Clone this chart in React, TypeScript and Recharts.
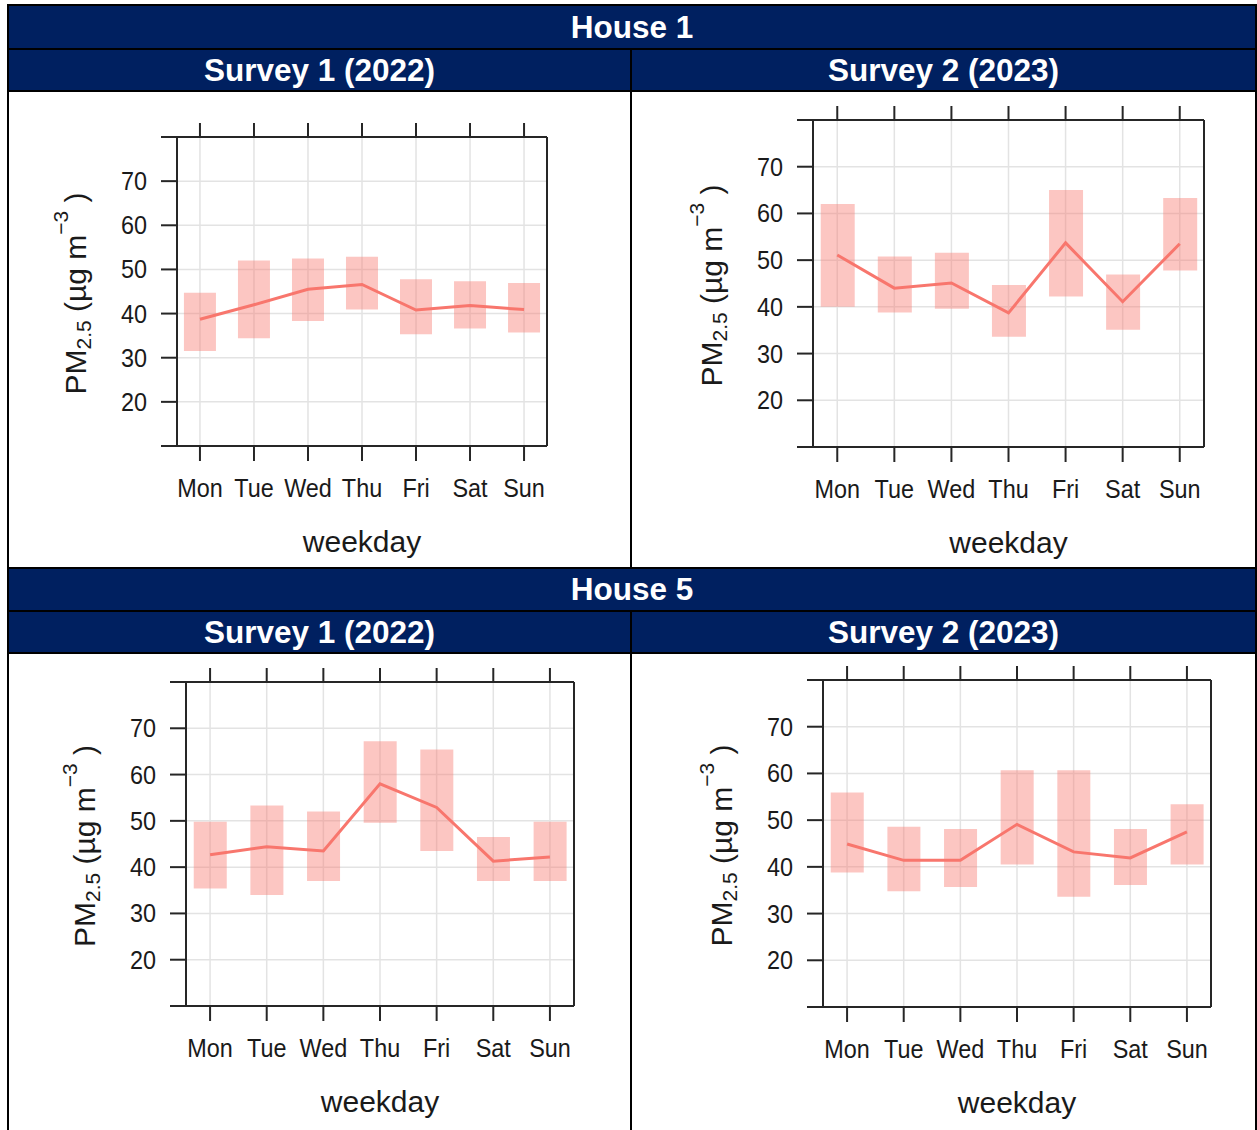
import React from 'react';
import { ComposedChart, Bar, Line, XAxis, YAxis, CartesianGrid } from 'recharts';

const days = ['Mon', 'Tue', 'Wed', 'Thu', 'Fri', 'Sat', 'Sun'];
const dayPos = [1, 2, 3, 4, 5, 6, 7];
const yTicks = [10, 20, 30, 40, 50, 60, 70, 80];
const yLabelled = [20, 30, 40, 50, 60, 70];
const houseTitles = ['House 1', 'House 5'];
const surveyTitles = ['Survey 1 (2022)', 'Survey 2 (2023)'];

// House 1, Survey 1 (2022)
const h1s1Mean = [38.7, 42.0, 45.5, 46.6, 40.8, 41.8, 40.9];
const h1s1Low = [31.5, 34.4, 38.3, 40.9, 35.3, 36.6, 35.7];
const h1s1High = [44.7, 52.0, 52.5, 52.9, 47.8, 47.3, 46.9];

// House 1, Survey 2 (2023)
const h1s2Mean = [51.1, 44.0, 45.1, 38.7, 53.7, 41.1, 53.5];
const h1s2Low = [40.0, 38.8, 39.6, 33.6, 42.2, 35.1, 47.8];
const h1s2High = [62.0, 50.8, 51.6, 44.7, 65.0, 46.9, 63.3];

// House 5, Survey 1 (2022)
const h5s1Mean = [42.7, 44.4, 43.5, 58.0, 52.9, 41.3, 42.2];
const h5s1Low = [35.4, 34.0, 37.0, 49.6, 43.5, 37.0, 37.0];
const h5s1High = [49.8, 53.3, 52.0, 67.2, 65.4, 46.5, 49.8];

// House 5, Survey 2 (2023)
const h5s2Mean = [44.9, 41.4, 41.4, 49.1, 43.2, 41.9, 47.5];
const h5s2Low = [38.8, 34.8, 35.7, 40.5, 33.6, 36.1, 40.5];
const h5s2High = [55.9, 48.6, 48.1, 60.7, 60.7, 48.1, 53.4];

const NAVY = '#002060';
const FONT = '"Liberation Sans", Arial, Helvetica, sans-serif';
const SERIES = '#F8766D';
const AXIS = '#262626';
const TEXT = '#1a1a1a';
const xDomain = [0.575, 7.425];
const yDomain = [10, 80];

type Box = [number, number, number, number];

function XTick(props: any) {
  const { x, y, payload } = props;
  const label = days[payload.value - 1] ?? '';
  return (
    <text
      transform={`translate(${x},${y + 34}) scale(0.9,1)`}
      textAnchor="middle"
      fontSize={26}
      fontFamily={FONT}
      fill={TEXT}
    >
      {label}
    </text>
  );
}

function YTick(props: any) {
  const { x, y, payload } = props;
  if (!yLabelled.includes(payload.value)) return <g />;
  return (
    <text
      transform={`translate(${x - 12},${y}) scale(0.9,1)`}
      textAnchor="end"
      dominantBaseline="central"
      fontSize={26}
      fontFamily={FONT}
      fill={TEXT}
    >
      {payload.value}
    </text>
  );
}

function EmptyTick() {
  return <g />;
}

function Panel({ cell, frame, mean, low, high, barSize }: { cell: Box; frame: Box; mean: number[]; low: number[]; high: number[]; barSize: number }) {
  const [cl, ct, cr, cb] = cell;
  const [fl, ft, fr, fb] = frame;
  const W = cr - cl;
  const H = cb - ct;
  const data = days.map((d, i) => ({ x: dayPos[i], day: d, range: [low[i], high[i]], mean: mean[i] }));
  const axisStyle = { stroke: AXIS, strokeWidth: 2 };
  const xlx = (fl + fr) / 2 - cl;
  const xly = fb + 106 - ct;
  const ylx = fl - 102 - cl;
  const yly = (ft + fb) / 2 + 2 - ct;
  return (
    <div style={{ position: 'absolute', left: cl, top: ct, width: W, height: H }}>
      <ComposedChart width={W} height={H} data={data} margin={{ top: 0, right: 0, bottom: 0, left: 0 }}>
        <CartesianGrid xAxisId="b" yAxisId="l" stroke="#e3e3e3" strokeWidth={1.5} />
        <XAxis
          xAxisId="b"
          dataKey="x"
          type="number"
          orientation="bottom"
          domain={xDomain}
          ticks={dayPos}
          interval={0}
          height={cb - fb}
          tickSize={15}
          tickMargin={2}
          axisLine={axisStyle}
          tickLine={axisStyle}
          tick={<XTick />}
          label={() => (
            <text x={xlx} y={xly} textAnchor="middle" fontSize={30} fontFamily={FONT} fill={TEXT}>
              weekday
            </text>
          )}
        />
        <XAxis
          xAxisId="t"
          dataKey="x"
          type="number"
          orientation="top"
          domain={xDomain}
          ticks={dayPos}
          interval={0}
          height={ft - ct}
          tickSize={14}
          axisLine={axisStyle}
          tickLine={axisStyle}
          tick={<EmptyTick />}
        />
        <YAxis
          yAxisId="l"
          type="number"
          orientation="left"
          domain={yDomain}
          ticks={yTicks}
          interval={0}
          width={fl - cl}
          tickSize={16}
          tickMargin={2}
          axisLine={axisStyle}
          tickLine={axisStyle}
          tick={<YTick />}
          label={() => (
            <text
              transform={`translate(${ylx},${yly}) rotate(-90)`}
              textAnchor="middle"
              dominantBaseline="central"
              fontSize={30}
              fontFamily={FONT}
              fill={TEXT}
            >
              PM
              <tspan fontSize={21} dy={8}>2.5</tspan>
              <tspan dy={-8}> (µg m</tspan>
              <tspan fontSize={21} dy={-15}>−3</tspan>
              <tspan dy={15}> )</tspan>
            </text>
          )}
        />
        <YAxis
          yAxisId="r"
          type="number"
          orientation="right"
          domain={yDomain}
          ticks={yTicks}
          interval={0}
          width={cr - fr}
          tickSize={14}
          axisLine={axisStyle}
          tickLine={axisStyle}
          tick={<EmptyTick />}
        />
        <Bar
          xAxisId="b"
          yAxisId="l"
          dataKey="range"
          barSize={barSize}
          fill={SERIES}
          fillOpacity={0.42}
          isAnimationActive={false}
        />
        <Line
          xAxisId="b"
          yAxisId="l"
          dataKey="mean"
          type="linear"
          stroke={SERIES}
          strokeWidth={3}
          dot={false}
          activeDot={false}
          isAnimationActive={false}
        />
      </ComposedChart>
    </div>
  );
}

function Rect({ x, y, w, h, c }: { x: number; y: number; w: number; h: number; c: string }) {
  return <div style={{ position: 'absolute', left: x, top: y, width: w, height: h, background: c }} />;
}

function Band({ x, y, w, h, text }: { x: number; y: number; w: number; h: number; text: string }) {
  return (
    <div
      style={{
        position: 'absolute',
        left: x,
        top: y,
        width: w,
        height: h,
        background: NAVY,
        color: '#ffffff',
        fontFamily: FONT,
        fontWeight: 'bold',
        fontSize: 31.5,
        lineHeight: `${h}px`,
        textAlign: 'center',
        whiteSpace: 'nowrap',
      }}
    >
      {text}
    </div>
  );
}

export default function App() {
  return (
    <div style={{ position: 'absolute', left: 0, top: 0, width: 1257, height: 1130, background: '#ffffff', overflow: 'hidden' }}>
      {/* header bands */}
      <Band x={9} y={6} w={1246} h={42} text={houseTitles[0]} />
      <Band x={9} y={50} w={621} h={40} text={surveyTitles[0]} />
      <Band x={632} y={50} w={623} h={40} text={surveyTitles[1]} />
      <Band x={9} y={569} w={1246} h={41} text={houseTitles[1]} />
      <Band x={9} y={612} w={621} h={40} text={surveyTitles[0]} />
      <Band x={632} y={612} w={623} h={40} text={surveyTitles[1]} />

      <Panel cell={[9, 92, 630, 567]} frame={[177, 137, 547, 446]} mean={h1s1Mean} low={h1s1Low} high={h1s1High} barSize={32} />
      <Panel cell={[632, 92, 1255, 567]} frame={[813, 120, 1204, 447]} mean={h1s2Mean} low={h1s2Low} high={h1s2High} barSize={34} />
      <Panel cell={[9, 654, 630, 1130]} frame={[186, 682, 574, 1006]} mean={h5s1Mean} low={h5s1Low} high={h5s1High} barSize={33} />
      <Panel cell={[632, 654, 1255, 1130]} frame={[823, 680, 1211, 1007]} mean={h5s2Mean} low={h5s2Low} high={h5s2High} barSize={33} />

      {/* table rules */}
      <Rect x={7} y={4} w={1250} h={2} c="#000" />
      <Rect x={7} y={4} w={2} h={1126} c="#000" />
      <Rect x={1255} y={4} w={2} h={1126} c="#000" />
      <Rect x={7} y={48} w={1250} h={2} c="#000" />
      <Rect x={7} y={90} w={1250} h={2} c="#000" />
      <Rect x={7} y={567} w={1250} h={2} c="#000" />
      <Rect x={7} y={610} w={1250} h={2} c="#000" />
      <Rect x={7} y={652} w={1250} h={2} c="#000" />
      <Rect x={630} y={48} w={2} h={519} c="#000" />
      <Rect x={630} y={610} w={2} h={520} c="#000" />
    </div>
  );
}
